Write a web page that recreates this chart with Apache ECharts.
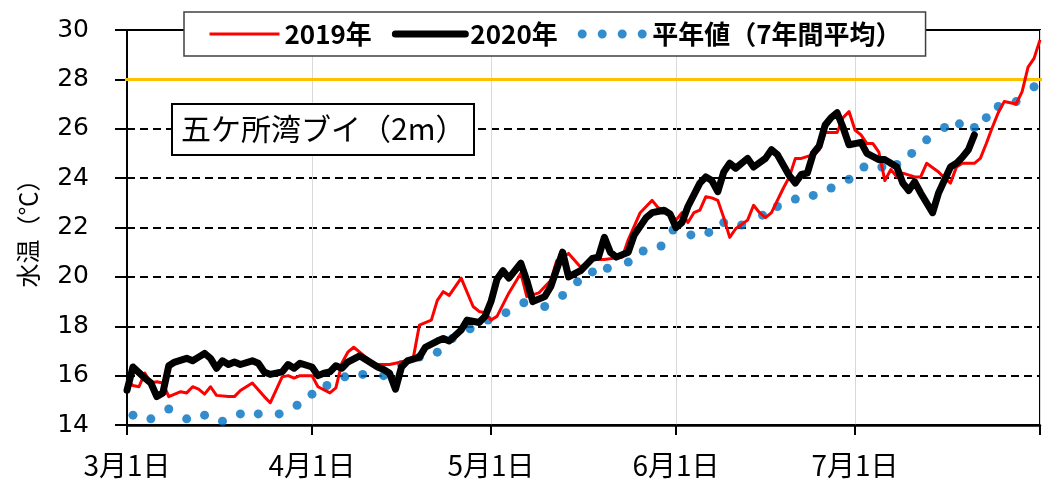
<!DOCTYPE html>
<html>
<head>
<meta charset="utf-8">
<script src="https://cdn.jsdelivr.net/npm/echarts@6/dist/echarts.min.js"></script>
<style>
  html, body { margin: 0; padding: 0; background: #fff; }
  #chart { width: 1045px; height: 489px; }
</style>
</head>
<body>
<div id="chart"></div>
<script>
// x は 3月1日からの日数
const monthStarts = [0, 31, 61, 92, 122, 153];
const monthLabels = ['3月1日', '4月1日', '5月1日', '6月1日', '7月1日'];
const threshold = 28;

// 2019年 [日数, 水温]
const temp2019 = [
  [0, 15.8], [1, 15.6], [2, 15.55], [3, 16.1], [4, 15.7], [5, 15.75], [6, 15.7], [7, 15.15],
  [9, 15.35], [10, 15.3], [11, 15.55], [12, 15.45], [13, 15.25], [14, 15.55], [15, 15.2],
  [17, 15.15], [18, 15.15], [19, 15.4], [21, 15.7], [23, 15.15], [24, 14.9], [26, 15.95],
  [27, 16.0], [28, 15.9], [29, 16.0], [31, 16.0], [32, 15.55], [34, 15.3], [35, 15.5],
  [36, 16.5], [37, 16.95], [38, 17.15], [40, 16.75], [41, 16.5], [42, 16.45], [44, 16.45],
  [46, 16.55], [47, 16.65], [48, 16.75], [49, 18.05], [51, 18.25], [52, 19.05], [53, 19.4],
  [54, 19.25], [56, 19.95], [58, 18.8], [59, 18.6], [60, 18.55], [61, 18.25], [62, 18.4],
  [64, 19.35], [66, 20.15], [67, 19.2], [69, 19.35], [71, 19.85], [72, 20.65], [74, 20.95],
  [76, 20.4], [78, 20.7], [80, 20.7], [83, 20.8], [84, 21.5], [86, 22.6], [87, 22.85],
  [88, 23.1], [89, 22.8], [91, 22.6], [92, 22.3], [93, 22.6], [94, 22.2], [95, 22.6],
  [96, 22.7], [97, 23.25], [98, 23.2], [99, 23.1], [100, 22.4], [101, 21.6], [102, 21.95],
  [104, 22.3], [105, 22.9], [106, 22.6], [107, 22.4], [108, 22.6], [110, 23.6], [111, 24.05],
  [112, 24.8], [113, 24.8], [115, 24.95], [116, 25.15], [117, 25.85], [119, 25.85],
  [120, 26.45], [121, 26.7], [122, 25.95], [123, 25.75], [124, 25.4], [125, 25.4],
  [126, 25.05], [127, 23.9], [128, 24.35], [129, 24.05], [130, 24.2], [132, 24.05],
  [133, 24.05], [134, 24.6], [136, 24.25], [137, 24.0], [138, 23.8], [139, 24.45],
  [140, 24.6], [142, 24.6], [143, 24.8], [144, 25.4], [145, 26.05], [146, 26.65],
  [147, 27.1], [149, 27.0], [150, 27.5], [151, 28.5], [152, 28.85], [153, 29.6]
];

// 2020年 [日数, 水温]
const temp2020 = [
  [0, 15.4], [1, 16.35], [3, 15.9], [4, 15.7], [5, 15.15], [6, 15.3], [7, 16.4], [8, 16.55],
  [10, 16.7], [11, 16.6], [12, 16.75], [13, 16.9], [14, 16.7], [15, 16.3], [16, 16.6],
  [17, 16.45], [18, 16.55], [19, 16.45], [21, 16.6], [22, 16.5], [23, 16.15], [24, 16.05],
  [26, 16.15], [27, 16.45], [28, 16.3], [29, 16.5], [31, 16.35], [32, 16.0], [33, 16.1],
  [34, 16.15], [35, 16.4], [36, 16.3], [37, 16.55], [39, 16.8], [40, 16.65], [42, 16.35],
  [43, 16.25], [44, 16.1], [45, 15.45], [46, 16.35], [47, 16.6], [49, 16.75], [50, 17.15],
  [52, 17.4], [53, 17.5], [54, 17.4], [56, 17.85], [57, 18.25], [59, 18.15], [60, 18.4],
  [61, 19.0], [62, 19.9], [63, 20.25], [64, 19.95], [66, 20.55], [67, 19.85], [68, 19.0],
  [70, 19.2], [71, 19.6], [73, 21.0], [74, 20.0], [76, 20.25], [78, 20.75], [79, 20.8],
  [80, 21.6], [81, 21.0], [82, 20.8], [84, 21.0], [85, 21.7], [87, 22.4], [88, 22.6],
  [90, 22.7], [91, 22.55], [92, 22.0], [93, 22.2], [94, 22.85], [96, 23.8], [97, 24.05],
  [98, 23.9], [99, 23.45], [100, 24.25], [101, 24.6], [102, 24.4], [104, 24.8], [105, 24.45],
  [107, 24.8], [108, 25.15], [109, 24.95], [111, 24.1], [112, 23.8], [113, 24.15],
  [114, 24.2], [115, 25.0], [116, 25.3], [117, 26.15], [118, 26.45], [119, 26.65],
  [120, 26.05], [121, 25.35], [122, 25.4], [123, 25.45], [124, 25.0], [126, 24.75],
  [127, 24.75], [128, 24.6], [129, 24.45], [130, 23.8], [131, 23.5], [132, 23.85],
  [133, 23.4], [135, 22.6], [136, 23.4], [138, 24.45], [139, 24.6], [140, 24.85],
  [141, 25.15], [142, 25.75]
];

// 平年値（7年間平均） 点線の点の位置
const tempAvg = [
  [1, 14.4], [4, 14.25], [7, 14.65], [10, 14.25], [13, 14.4], [16, 14.15], [19, 14.45],
  [22, 14.45], [25.5, 14.45], [28.5, 14.8], [31, 15.25], [33.5, 15.6], [36.5, 15.95],
  [39.5, 16.05], [43, 16.0], [46, 16.45], [49, 16.75], [52, 16.95], [54.5, 17.5],
  [57.5, 17.9], [60.5, 18.25], [63.5, 18.55], [66.5, 18.95], [70, 18.8], [73, 19.25],
  [75.5, 19.8], [78, 20.2], [80.5, 20.35], [84, 20.6], [86.5, 21.05], [89.5, 21.25],
  [91.5, 21.9], [94.5, 21.7], [97.5, 21.8], [100, 22.2], [103, 22.1], [106.5, 22.5],
  [109, 22.85], [112, 23.15], [115, 23.3], [118, 23.6], [121, 23.95], [123.5, 24.45],
  [126.5, 24.45], [129, 24.55], [131.5, 25.0], [134, 25.55], [137, 26.05], [139.5, 26.2],
  [142, 26.05], [144, 26.45], [146, 26.9], [149, 27.1], [152, 27.7]
];

const jpFont = '"Noto Sans CJK JP", sans-serif';
const chart = echarts.init(document.getElementById('chart'));

// 凡例用の4つの点
const dotsIcon = 'path://M0,4.5a4.5,4.5 0 1,0 9,0a4.5,4.5 0 1,0 -9,0z' +
  'M20,4.5a4.5,4.5 0 1,0 9,0a4.5,4.5 0 1,0 -9,0z' +
  'M40,4.5a4.5,4.5 0 1,0 9,0a4.5,4.5 0 1,0 -9,0z' +
  'M60,4.5a4.5,4.5 0 1,0 9,0a4.5,4.5 0 1,0 -9,0z';

chart.setOption({
  animation: false,
  title: {
    text: '五ケ所湾ブイ（2m）',
    left: 172,
    top: 104,
    padding: [10, 9, 11, 9],
    backgroundColor: '#fff',
    borderColor: '#000',
    borderWidth: 2,
    textStyle: { fontFamily: jpFont, fontSize: 30, fontWeight: 'normal', color: '#000' }
  },
  legend: {
    left: 184,
    top: 12,
    padding: [9, 24, 9, 24],
    itemGap: 20,
    itemWidth: 70,
    itemHeight: 9,
    backgroundColor: '#fff',
    borderColor: '#404040',
    borderWidth: 1.5,
    textStyle: { fontFamily: jpFont, fontSize: 26, fontWeight: 'bold', color: '#000' },
    data: [
      // 線の凡例に点を出さない
      { name: '2019年', lineStyle: { width: 3 }, itemStyle: { opacity: 0 } },
      { name: '2020年', lineStyle: { width: 7 }, itemStyle: { opacity: 0 } },
      { name: '平年値（7年間平均）', icon: dotsIcon }
    ]
  },
  grid: {
    left: 127,
    right: 5,
    top: 30,
    bottom: 64,
    show: true,
    borderColor: '#000',
    borderWidth: 2
  },
  xAxis: {
    type: 'value',
    min: 0,
    max: 153,
    axisLine: { show: true, onZero: false, lineStyle: { color: '#000', width: 2.5 } },
    axisTick: { show: true, customValues: monthStarts, length: 10, lineStyle: { color: '#000', width: 2 } },
    axisLabel: {
      customValues: monthStarts.slice(0, monthLabels.length),
      formatter: (v) => monthLabels[monthStarts.indexOf(v)],
      fontFamily: jpFont,
      fontSize: 28,
      color: '#000',
      margin: 26
    },
    splitLine: { show: true, lineStyle: { color: '#d9d9d9', width: 1 } }
  },
  yAxis: {
    type: 'value',
    min: 14,
    max: 30,
    interval: 2,
    name: '水温（℃）',
    nameLocation: 'middle',
    nameGap: 87,
    nameTextStyle: { fontFamily: jpFont, fontSize: 24, color: '#000' },
    axisLine: { show: true, lineStyle: { color: '#000', width: 2 } },
    axisTick: { show: true, length: 12, lineStyle: { color: '#000', width: 2 } },
    axisLabel: { fontFamily: '"DejaVu Sans", sans-serif', fontSize: 25, color: '#000', margin: 38 },
    splitLine: { show: true, lineStyle: { color: '#000', width: 2, type: [8, 5] } }
  },
  series: [
    {
      // 28℃ の基準線（軸の外まで伸ばす）
      name: 'threshold',
      type: 'line',
      data: [[-4.5, threshold], [154, threshold]],
      clip: false,
      symbol: 'none',
      silent: true,
      z: 1,
      lineStyle: { color: '#FFC000', width: 3 }
    },
    {
      name: '2019年',
      type: 'line',
      data: temp2019,
      symbol: 'none',
      lineStyle: { color: '#FF0000', width: 3, join: 'round' },
      itemStyle: { color: '#FF0000' }
    },
    {
      name: '2020年',
      type: 'line',
      data: temp2020,
      symbol: 'none',
      lineStyle: { color: '#000', width: 7, join: 'round', cap: 'round' },
      itemStyle: { color: '#000' }
    },
    {
      name: '平年値（7年間平均）',
      type: 'scatter',
      data: tempAvg,
      symbol: 'circle',
      symbolSize: 9,
      itemStyle: { color: '#0070C0' }
    }
  ]
});
</script>
</body>
</html>
